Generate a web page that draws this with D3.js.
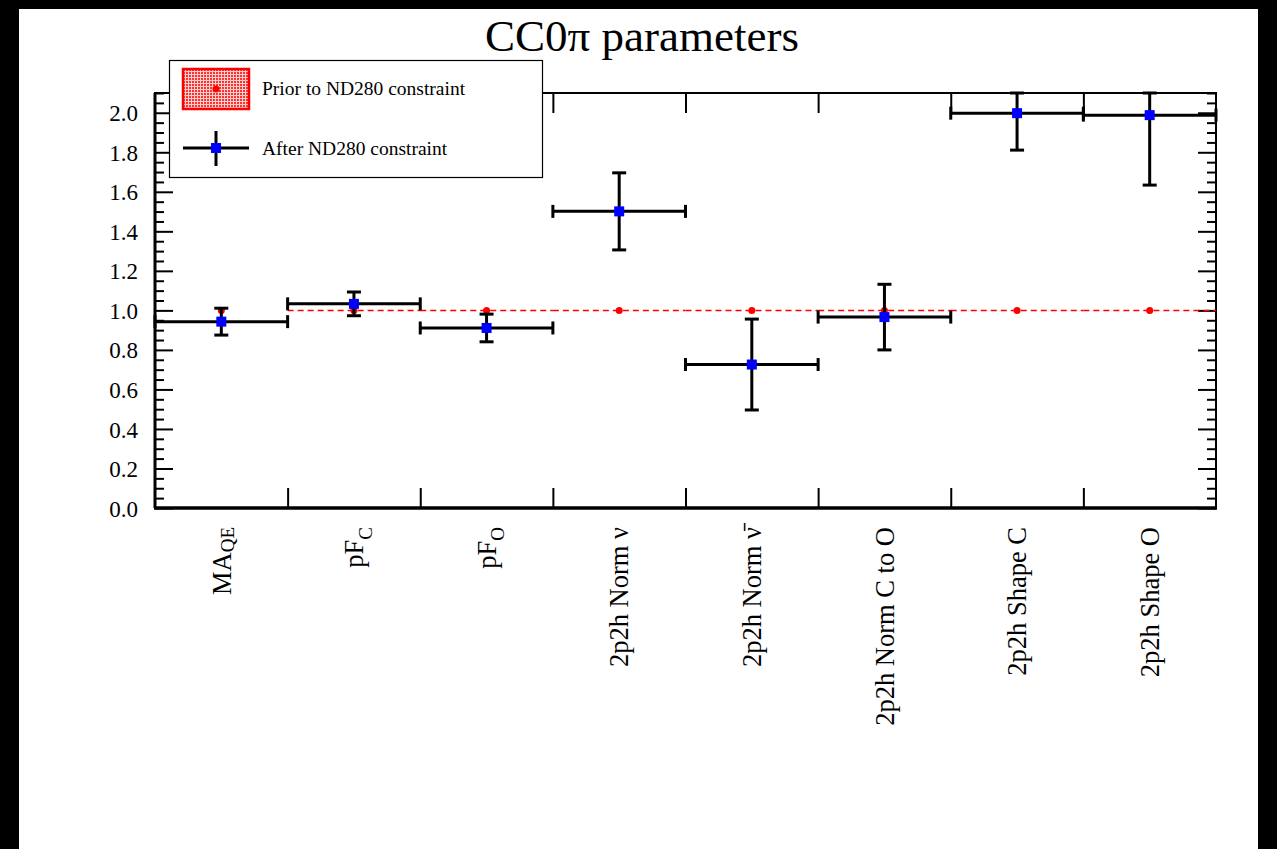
<!DOCTYPE html>
<html>
<head>
<meta charset="utf-8">
<script src="https://cdn.jsdelivr.net/npm/d3@7"></script>
<style>
  html, body { margin: 0; padding: 0; background: #000; }
  svg { display: block; }
  text { font-family: "Liberation Serif", "DejaVu Serif", serif; fill: #000; }
</style>
</head>
<body>
<svg id="chart" width="1277" height="849"></svg>
<script>
// Parameter names ("_" marks a subscript)
const categories = ["MA_QE", "pF_C", "pF_O", "2p2h Norm ν", "2p2h Norm ν̄",
                    "2p2h Norm C to O", "2p2h Shape C", "2p2h Shape O"];
// Prior (nominal) values
const priorValues = [1, 1, 1, 1, 1, 1, 1, 1];
// Post-fit values and their 1σ errors after the ND280 constraint
const postValues = [0.943, 1.033, 0.911, 1.501, 0.726, 0.966, 1.998, 1.988];
const postErrors = [0.068, 0.060, 0.070, 0.195, 0.230, 0.166, 0.187, 0.354];
// Y axis tick labels
const yTickValues = [0.0, 0.2, 0.4, 0.6, 0.8, 1.0, 1.2, 1.4, 1.6, 1.8, 2.0];
const yMinorStep = 0.05;
const yMax = 2.1;
const titleText = "CC0π parameters";
const legendLabels = ["Prior to ND280 constraint", "After ND280 constraint"];

const svg = d3.select("#chart");
const W = 1277, H = 849;

// white canvas with the black margins
svg.append("rect").attr("x", 19).attr("y", 9).attr("width", 1258 - 19).attr("height", H - 9).attr("fill", "#fff");

const frame = { left: 155, right: 1216, top: 93, bottom: 508 };

const x = d3.scaleBand().domain(categories).range([frame.left, frame.right]).paddingInner(0).paddingOuter(0);
const xEdge = d3.scaleLinear().domain([0, categories.length]).range([frame.left, frame.right]);
const y = d3.scaleLinear().domain([0, yMax]).range([frame.bottom, frame.top]);

// title
svg.append("text")
  .attr("x", 642).attr("y", 51)
  .attr("text-anchor", "middle")
  .attr("font-size", 45)
  .text(titleText);

const minorVals = d3.range(0, yMax + 1e-9, yMinorStep).filter(v => Math.abs(Math.round(v / 0.2) * 0.2 - v) > 1e-6);

// left axis: inward ticks, labels outside
const gLeft = svg.append("g").attr("transform", `translate(${frame.left},0)`);
gLeft.call(d3.axisLeft(y).tickValues(yTickValues).tickSize(-18).tickPadding(17).tickFormat(d3.format(".1f")));
gLeft.append("g").call(d3.axisLeft(y).tickValues(minorVals).tickSize(-9).tickFormat(""));
gLeft.selectAll(".tick text").attr("font-size", 23).attr("font-family", "Liberation Serif, serif").attr("dy", "0.35em");

// right axis mirror ticks
const gRight = svg.append("g").attr("transform", `translate(${frame.right},0)`);
gRight.call(d3.axisRight(y).tickValues(yTickValues).tickSize(-18).tickFormat(""));
gRight.append("g").call(d3.axisRight(y).tickValues(minorVals).tickSize(-9).tickFormat(""));

// top axis ticks at bin edges
const gTop = svg.append("g").attr("transform", `translate(0,${frame.top})`);
gTop.call(d3.axisTop(xEdge).tickValues(d3.range(1, categories.length)).tickSize(-20).tickFormat(""));

// bottom axis: ticks at bin edges, names at bin centres
const gBottom = svg.append("g").attr("transform", `translate(0,${frame.bottom})`);
gBottom.call(d3.axisBottom(xEdge).tickValues(d3.range(1, categories.length)).tickSize(-20).tickFormat(""));
const gLabels = svg.append("g").attr("transform", `translate(0,${frame.bottom})`);
gLabels.call(d3.axisBottom(x).tickSize(0).tickFormat(""));
gLabels.select(".domain").remove();
gLabels.selectAll(".tick").each(function (d) {
  const parts = d.split("_");
  const t = d3.select(this).append("text")
    .attr("transform", "rotate(-90)")
    .attr("x", -19).attr("y", 0)
    .attr("dy", "0.35em")
    .attr("text-anchor", "end")
    .attr("font-size", 26.5)
    .attr("font-family", "Liberation Serif, serif")
    .attr("fill", "#000");
  t.append("tspan").text(parts[0]);
  if (parts[1]) {
    t.append("tspan").attr("font-size", 19).attr("dy", parts[0] === "MA" ? "0.2em" : "0.45em").text(parts[1]);
  }
});

[gLeft, gRight, gTop, gBottom].forEach(g => {
  g.selectAll(".domain").remove();
  g.selectAll("line").attr("stroke", "#000").attr("stroke-width", 2);
});

// frame
svg.append("rect")
  .attr("x", frame.left).attr("y", frame.top)
  .attr("width", frame.right - frame.left).attr("height", frame.bottom - frame.top)
  .attr("fill", "none").attr("stroke", "#000").attr("stroke-width", 2);
svg.append("line")
  .attr("x1", frame.left - 1).attr("x2", frame.right + 1)
  .attr("y1", frame.bottom).attr("y2", frame.bottom)
  .attr("stroke", "#000").attr("stroke-width", 3.5);
svg.append("line")
  .attr("x1", frame.left).attr("x2", frame.left)
  .attr("y1", frame.top).attr("y2", frame.bottom)
  .attr("stroke", "#000").attr("stroke-width", 3);

// prior: dashed nominal line and points
const prior = categories.map((c, i) => ({ c, i, v: priorValues[i] }));
const plot = svg.append("g");
plot.selectAll("line.prior").data(prior.filter(d => d.i > 0)).join("line")
  .attr("class", "prior")
  .attr("x1", d => x(d.c)).attr("x2", d => x(d.c) + x.bandwidth())
  .attr("y1", d => y(d.v)).attr("y2", d => y(d.v))
  .attr("stroke", "#ff0000").attr("stroke-width", 1.5)
  .attr("stroke-dasharray", "6,4");
plot.selectAll("circle.prior").data(prior).join("circle")
  .attr("class", "prior")
  .attr("cx", d => x(d.c) + x.bandwidth() / 2).attr("cy", d => y(d.v))
  .attr("r", 3.5).attr("fill", "#ff0000");

// post-fit: bin-wide horizontal bars, vertical error bars, blue markers
const post = categories.map((c, i) => ({
  c, i, v: postValues[i],
  lo: Math.max(0, postValues[i] - postErrors[i]),
  hi: Math.min(yMax, postValues[i] + postErrors[i])
}));
const cx = d => x(d.c) + x.bandwidth() / 2;
const pg = plot.selectAll("g.post").data(post).join("g").attr("class", "post")
  .attr("stroke", "#000").attr("stroke-width", 3);
pg.append("line").attr("x1", d => x(d.c)).attr("x2", d => x(d.c) + x.bandwidth())
  .attr("y1", d => y(d.v)).attr("y2", d => y(d.v));
pg.append("line").attr("x1", d => x(d.c)).attr("x2", d => x(d.c))
  .attr("y1", d => y(d.v) - 6.5).attr("y2", d => y(d.v) + 6.5);
pg.append("line").attr("x1", d => x(d.c) + x.bandwidth()).attr("x2", d => x(d.c) + x.bandwidth())
  .attr("y1", d => y(d.v) - 6.5).attr("y2", d => y(d.v) + 6.5);
pg.append("line").attr("x1", cx).attr("x2", cx)
  .attr("y1", d => y(d.lo)).attr("y2", d => y(d.hi));
pg.append("line").attr("x1", d => cx(d) - 7).attr("x2", d => cx(d) + 7)
  .attr("y1", d => y(d.lo)).attr("y2", d => y(d.lo));
pg.append("line").attr("x1", d => cx(d) - 7).attr("x2", d => cx(d) + 7)
  .attr("y1", d => y(d.hi)).attr("y2", d => y(d.hi));
pg.append("rect").attr("stroke", "none").attr("fill", "#0000ff")
  .attr("x", d => cx(d) - 5).attr("y", d => y(d.v) - 5)
  .attr("width", 10).attr("height", 10);

// legend
const defs = svg.append("defs");
const pat = defs.append("pattern").attr("id", "redDots")
  .attr("patternUnits", "userSpaceOnUse").attr("width", 3).attr("height", 3);
pat.append("rect").attr("width", 3).attr("height", 3).attr("fill", "#ffd0d0");
pat.append("rect").attr("width", 2).attr("height", 2).attr("fill", "#ff3030");

const lg = svg.append("g");
lg.append("rect").attr("x", 169.5).attr("y", 60.5).attr("width", 373).attr("height", 117)
  .attr("fill", "#fff").attr("stroke", "#000").attr("stroke-width", 1.2);
lg.append("rect").attr("x", 183).attr("y", 69).attr("width", 66).attr("height", 40)
  .attr("fill", "url(#redDots)").attr("stroke", "#ff0000").attr("stroke-width", 2.5);
lg.append("circle").attr("cx", 216).attr("cy", 89).attr("r", 3.5).attr("fill", "#ff0000");
lg.append("line").attr("x1", 183).attr("x2", 249).attr("y1", 148).attr("y2", 148)
  .attr("stroke", "#000").attr("stroke-width", 3);
lg.append("line").attr("x1", 216).attr("x2", 216).attr("y1", 131).attr("y2", 166)
  .attr("stroke", "#000").attr("stroke-width", 3);
lg.append("rect").attr("x", 211).attr("y", 143).attr("width", 10).attr("height", 10).attr("fill", "#0000ff");
lg.selectAll("text.lab").data(legendLabels).join("text").attr("class", "lab")
  .attr("x", 262).attr("y", (d, i) => i === 0 ? 95 : 155)
  .attr("font-size", 19.5)
  .text(d => d);
</script>
</body>
</html>
